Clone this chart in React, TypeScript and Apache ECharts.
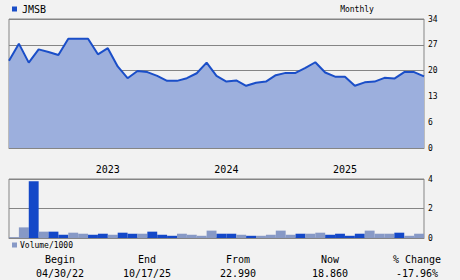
import React, { useEffect, useRef } from "react";
import * as echarts from "echarts";

// Month-end points from 04/2022 to 10/2025 (price line)
const priceMonths = [
  "2022-04", "2022-05", "2022-06", "2022-07", "2022-08", "2022-09", "2022-10", "2022-11", "2022-12",
  "2023-01", "2023-02", "2023-03", "2023-04", "2023-05", "2023-06", "2023-07", "2023-08", "2023-09", "2023-10", "2023-11", "2023-12",
  "2024-01", "2024-02", "2024-03", "2024-04", "2024-05", "2024-06", "2024-07", "2024-08", "2024-09", "2024-10", "2024-11", "2024-12",
  "2025-01", "2025-02", "2025-03", "2025-04", "2025-05", "2025-06", "2025-07", "2025-08", "2025-09", "2025-10",
];
const prices = [
  22.99, 27.5, 22.5, 26.0, 25.3, 24.5, 28.8, 28.8, 28.8, 24.7, 26.3, 21.5, 18.4, 20.3, 20.0, 19.0,
  17.7, 17.7, 18.4, 19.7, 22.5, 19.0, 17.5, 17.8, 16.4, 17.2, 17.5, 19.2, 19.8, 19.8, 21.1, 22.6,
  19.9, 18.8, 18.8, 16.4, 17.3, 17.5, 18.5, 18.3, 20.0, 20.0, 18.86,
];
const yearLabelMonths = ["2023-02", "2024-02", "2025-02"];

// Monthly volume (thousands), one bar per month
const volumeMonths = priceMonths.slice(1);
const volumes = [
  0.05, 0.72, 3.84, 0.43, 0.43, 0.22, 0.36, 0.29, 0.22, 0.29,
  0.22, 0.36, 0.29, 0.29, 0.43, 0.22, 0.15, 0.29, 0.22, 0.15,
  0.5, 0.29, 0.29, 0.22, 0.15, 0.15, 0.22, 0.5, 0.22, 0.29,
  0.29, 0.36, 0.22, 0.29, 0.15, 0.29, 0.5, 0.29, 0.29, 0.36,
  0.15, 0.29,
];
const volumeDark = [
  0, 0, 1, 0, 1, 1, 0, 0, 1, 1,
  0, 1, 1, 0, 1, 1, 1, 0, 0, 0,
  0, 1, 1, 0, 1, 0, 0, 0, 0, 1,
  0, 0, 1, 1, 1, 1, 0, 0, 0, 1,
  0, 0,
];

const statLabels = ["Begin", "End", "From", "Now", "% Change"];
const statValues = ["04/30/22", "10/17/25", "22.990", "18.860", "-17.96%"];
const statCenters = [60, 147, 238, 330, 417];

const BG = "#f2f2f2";
const GRID = "#858585";
const LINE = "#1a4ec8";
const AREA = "#9cafdd";
const VOL_DARK = "#1448c8";
const VOL_LIGHT = "#8799c6";
const FONT = "DejaVu Sans Mono";

export default function App() {
  const ref = useRef<HTMLDivElement>(null);
  useEffect(() => {
    if (!ref.current) return;
    const chart = echarts.init(ref.current, null, { renderer: "svg" });
    const texts: any[] = [];
    statLabels.forEach((s, i) => {
      texts.push({
        type: "text",
        x: statCenters[i],
        y: 259,
        style: { text: s, fill: "#000", font: `10px '${FONT}'`, textAlign: "center", textVerticalAlign: "middle" },
      });
      texts.push({
        type: "text",
        x: statCenters[i],
        y: 273,
        style: { text: statValues[i], fill: "#000", font: `10px '${FONT}'`, textAlign: "center", textVerticalAlign: "middle" },
      });
    });
    texts.push({
      type: "text",
      x: 357,
      y: 9,
      style: { text: "Monthly", fill: "#000", font: `8px '${FONT}'`, textAlign: "center", textVerticalAlign: "middle" },
    });
    chart.setOption({
      animation: false,
      backgroundColor: BG,
      textStyle: { fontFamily: FONT },
      legend: [
        {
          data: ["JMSB"],
          left: 12,
          top: 4,
          padding: 0,
          itemWidth: 5,
          itemHeight: 5,
          icon: "rect",
          textStyle: { fontSize: 10, color: "#000", fontFamily: FONT },
        },
        {
          data: ["Volume/1000"],
          left: 12,
          top: 241,
          padding: 0,
          itemWidth: 5,
          itemHeight: 5,
          icon: "rect",
          itemGap: 3,
          textStyle: { fontSize: 8, color: "#000", fontFamily: FONT, padding: [0, 0, 0, -2] },
        },
      ],
      grid: [
        { left: 9, right: 36, top: 19, height: 129, show: true, borderColor: GRID, borderWidth: 1, backgroundColor: "transparent" },
        { left: 9, right: 36, top: 179, height: 59, show: true, borderColor: GRID, borderWidth: 1, backgroundColor: "transparent" },
      ],
      xAxis: [
        {
          type: "category",
          gridIndex: 0,
          data: priceMonths,
          boundaryGap: false,
          axisLine: { show: true, lineStyle: { color: GRID } },
          axisTick: { show: false },
          splitLine: { show: false },
          axisLabel: {
            interval: (_i: number, v: string) => yearLabelMonths.includes(v),
            formatter: (v: string) => v.slice(0, 4),
            fontSize: 10,
            color: "#000",
            fontFamily: FONT,
            margin: 16,
          },
        },
        {
          type: "category",
          gridIndex: 1,
          data: volumeMonths,
          boundaryGap: true,
          axisLine: { show: true, lineStyle: { color: GRID } },
          axisTick: { show: false },
          axisLabel: { show: false },
          splitLine: { show: false },
        },
      ],
      yAxis: [
        {
          type: "value",
          gridIndex: 0,
          position: "right",
          min: 0,
          max: 34,
          interval: 6.8,
          axisLine: { show: false },
          axisTick: { show: false },
          splitLine: { show: true, lineStyle: { color: GRID, width: 1 } },
          axisLabel: {
            formatter: (v: number) => String(Math.floor(v + 1e-6)),
            fontSize: 8,
            color: "#000",
            fontFamily: FONT,
            margin: 4,
          },
        },
        {
          type: "value",
          gridIndex: 1,
          position: "right",
          min: 0,
          max: 4,
          interval: 2,
          axisLine: { show: false },
          axisTick: { show: false },
          splitLine: { show: true, lineStyle: { color: GRID, width: 1 } },
          axisLabel: { fontSize: 8, color: "#000", fontFamily: FONT, margin: 4 },
        },
      ],
      series: [
        {
          name: "JMSB",
          type: "line",
          xAxisIndex: 0,
          yAxisIndex: 0,
          data: prices,
          symbol: "none",
          lineStyle: { color: LINE, width: 2 },
          itemStyle: { color: LINE },
          areaStyle: { color: AREA, opacity: 1 },
        },
        {
          name: "Volume/1000",
          type: "bar",
          xAxisIndex: 1,
          yAxisIndex: 1,
          barCategoryGap: "0%",
          itemStyle: { color: VOL_LIGHT },
          data: volumes.map((v, i) => ({
            value: v,
            itemStyle: { color: volumeDark[i] ? VOL_DARK : VOL_LIGHT },
          })),
        },
      ],
      graphic: texts,
    });
    return () => chart.dispose();
  }, []);
  return (
    <div
      ref={ref}
      style={{ position: "fixed", left: 0, top: 0, width: 460, height: 280, background: BG }}
    />
  );
}
